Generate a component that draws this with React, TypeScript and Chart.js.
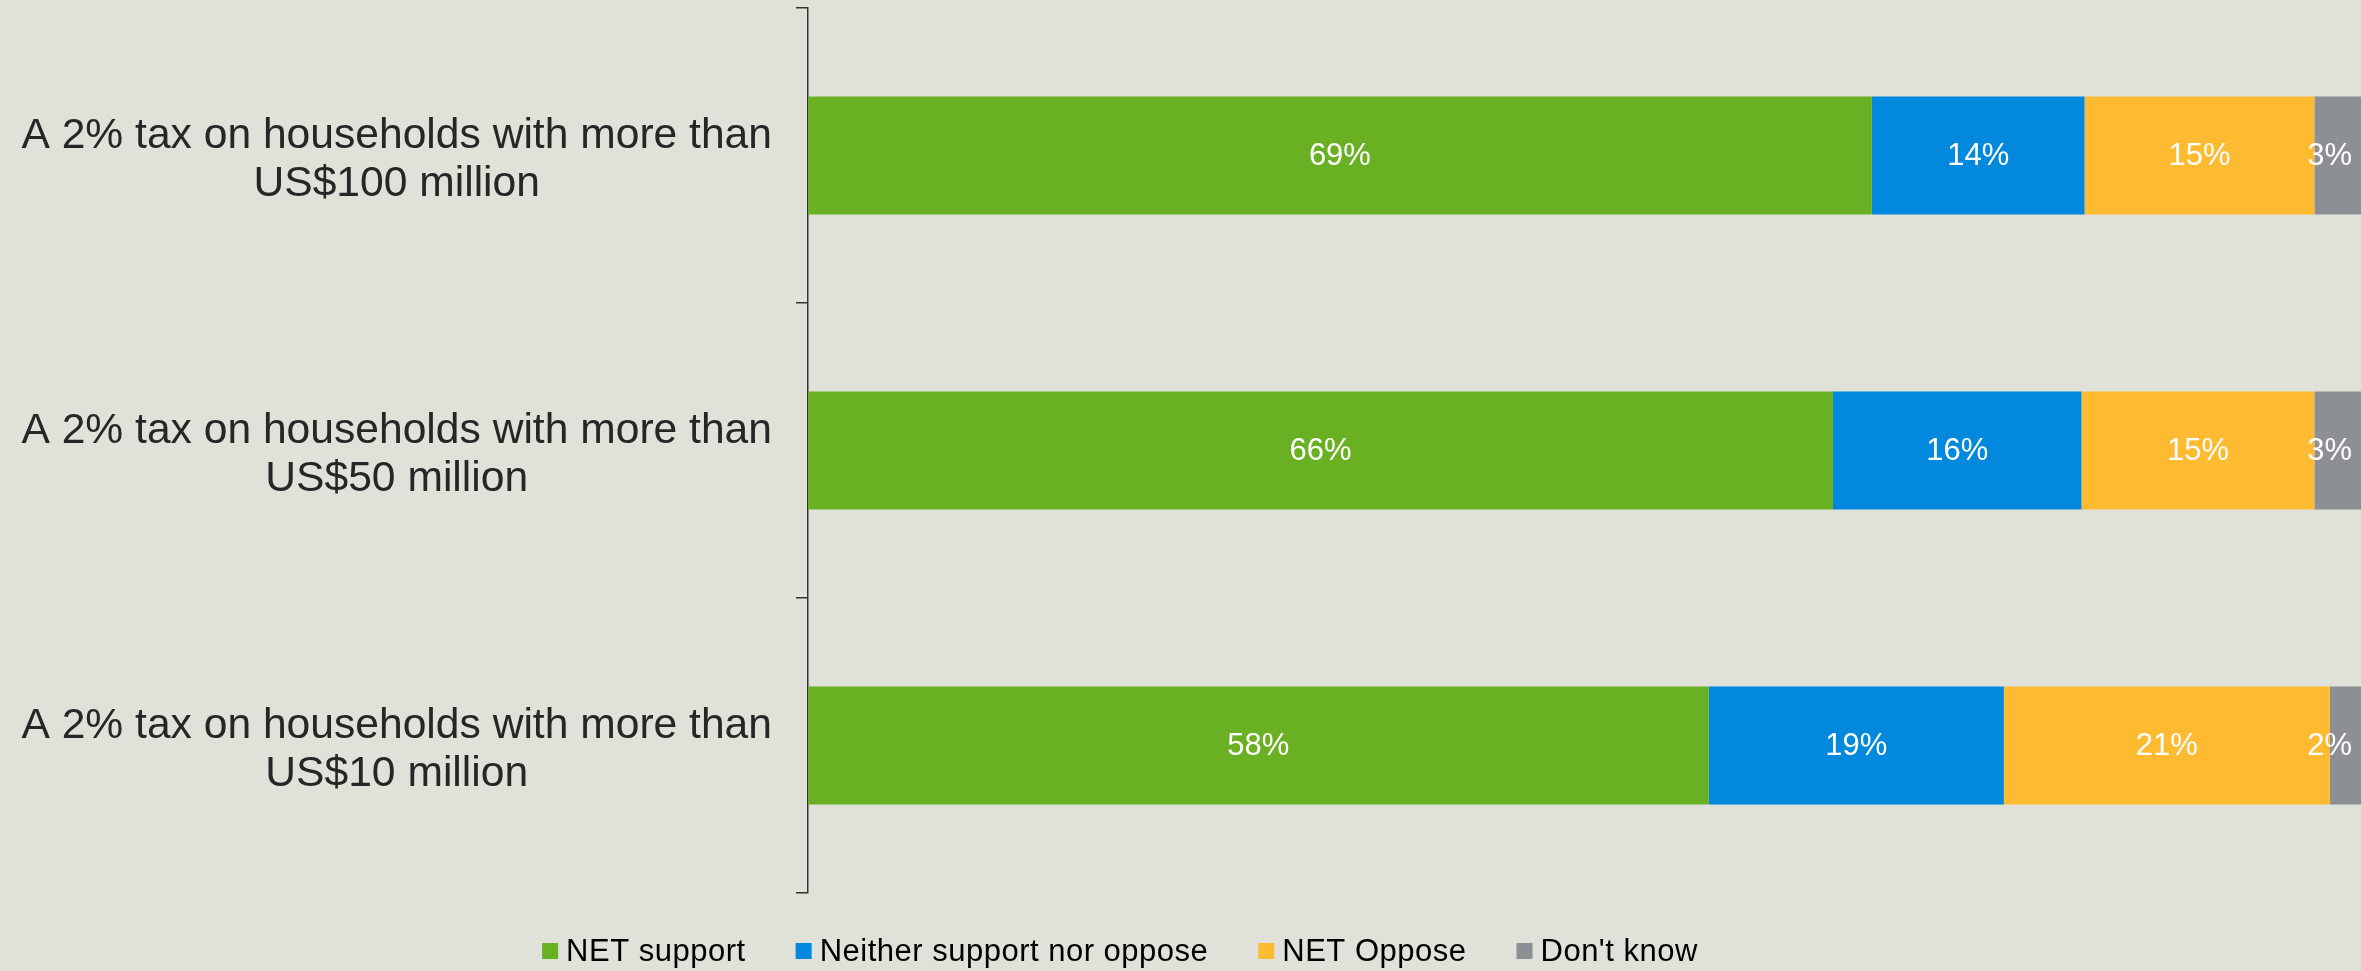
import React, { useEffect, useRef } from "react";
import { Chart, registerables } from "chart.js";

Chart.register(...registerables);

// ---- data ----
const categories: string[][] = [
  ["A 2% tax on households with more than", "US$100 million"],
  ["A 2% tax on households with more than", "US$50 million"],
  ["A 2% tax on households with more than", "US$10 million"],
];
const seriesNames = ["NET support", "Neither support nor oppose", "NET Oppose", "Don't know"];
const netSupport = [68.5, 66, 58];
const neitherSupportNorOppose = [13.7, 16, 19];
const netOppose = [14.8, 15, 21];
const dontKnow = [3, 3, 2];
const seriesColors = ["#6AB023", "#0288DC", "#FEBB32", "#8C8F93"];

const BG = "#E0E1D9";
const FONT = "'Liberation Sans', Arial, Helvetica, sans-serif";

const barLabels = {
  id: "barLabels",
  afterDatasetsDraw(chart: any) {
    const ctx = chart.ctx as CanvasRenderingContext2D;
    const area = chart.chartArea;
    ctx.save();
    ctx.font = `31px ${FONT}`;
    ctx.fillStyle = "#FFFFFF";
    ctx.textAlign = "center";
    ctx.textBaseline = "middle";
    chart.data.datasets.forEach((ds: any, di: number) => {
      const meta = chart.getDatasetMeta(di);
      meta.data.forEach((el: any, i: number) => {
        const v = ds.data[i] as number;
        const text = Math.round(v) + "%";
        const w = ctx.measureText(text).width;
        let x = (el.x + el.base) / 2;
        x = Math.min(x, area.right - 9 - w / 2);
        ctx.fillText(text, x, el.y + 1);
      });
    });
    ctx.restore();
  },
};

const customLegend = {
  id: "customLegend",
  afterDraw(chart: any) {
    const ctx = chart.ctx as CanvasRenderingContext2D;
    ctx.save();
    ctx.font = `31px ${FONT}`;
    (ctx as any).letterSpacing = "0.5px";
    ctx.textBaseline = "middle";
    ctx.textAlign = "left";
    const boxW = 16;
    const boxH = 16;
    const textGap = 8;
    const itemGap = 50;
    const centerX = 1120;
    const items = chart.data.datasets.map((ds: any) => ({
      label: ds.label as string,
      color: ds.backgroundColor as string,
      w: boxW + textGap + ctx.measureText(ds.label).width,
    }));
    const total = items.reduce((a: number, it: any) => a + it.w, 0) + itemGap * (items.length - 1);
    let x = centerX - total / 2;
    const y = chart.chartArea.bottom + 58;
    items.forEach((it: any) => {
      ctx.fillStyle = it.color;
      ctx.fillRect(x, y - boxH / 2, boxW, boxH);
      ctx.fillStyle = "#000000";
      ctx.fillText(it.label, x + boxW + textGap, y + 1);
      x += it.w + itemGap;
    });
    ctx.restore();
  },
};

export default function App() {
  const canvasRef = useRef<HTMLCanvasElement | null>(null);

  useEffect(() => {
    if (!canvasRef.current) return;
    const seriesData = [netSupport, neitherSupportNorOppose, netOppose, dontKnow];
    const chart = new Chart(canvasRef.current, {
      type: "bar",
      data: {
        labels: categories,
        datasets: seriesNames.map((name, i) => ({
          label: name,
          data: seriesData[i],
          backgroundColor: seriesColors[i],
          borderWidth: 0,
          barPercentage: 0.5,
          categoryPercentage: 0.8,
        })),
      },
      options: {
        indexAxis: "y",
        animation: false,
        responsive: true,
        maintainAspectRatio: false,
        layout: { padding: { top: 8, bottom: 78, left: 0, right: 0 } },
        plugins: {
          legend: { display: false },
          tooltip: { enabled: false },
        },
        scales: {
          x: {
            display: false,
            stacked: true,
            min: 0,
            max: 100,
          },
          y: {
            stacked: true,
            grid: {
              drawOnChartArea: false,
              drawTicks: true,
              tickLength: 12,
              color: "#333333",
              lineWidth: 1.5,
            },
            border: { display: true, color: "#333333", width: 1.5 },
            ticks: {
              color: "#262626",
              font: { family: FONT, size: 42.6, lineHeight: 1.13 },
              crossAlign: "center",
              padding: 24,
              labelOffset: 5,
            },
            afterFit(scale: any) {
              scale.width = 808;
              scale.paddingTop = 0;
              scale.paddingBottom = 0;
            },
          },
        },
      } as any,
      plugins: [barLabels, customLegend],
    });
    return () => chart.destroy();
  }, []);

  return (
    <div
      style={{
        position: "fixed",
        left: 0,
        top: 0,
        width: 2361,
        height: 971,
        background: BG,
      }}
    >
      <canvas ref={canvasRef} />
    </div>
  );
}
